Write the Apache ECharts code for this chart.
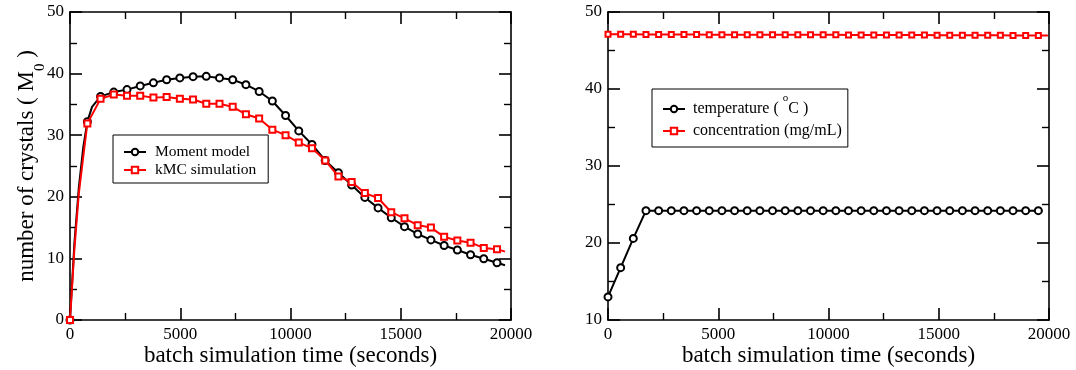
<!DOCTYPE html>
<html>
<head>
<meta charset="utf-8">
<script src="https://cdn.jsdelivr.net/npm/echarts@6/dist/echarts.min.js"></script>
<style>html,body{margin:0;padding:0;background:#fff;}#c{width:1076px;height:370px;}</style>
</head>
<body>
<div id="c"></div>
<script>
// ---- Left panel data (number of crystals) ----
const momentX = [0, 787, 1386, 1985, 2585, 3184, 3783, 4383, 4982, 5581, 6180, 6780, 7379, 7978, 8578, 9177, 9776, 10375, 10975, 11574, 12173, 12773, 13372, 13971, 14570, 15170, 15769, 16368, 16968, 17567, 18166, 18765, 19365];
const momentY = [0, 32.2, 36.3, 37.0, 37.4, 38.0, 38.5, 39.0, 39.3, 39.5, 39.55, 39.3, 39.0, 38.2, 37.1, 35.55, 33.2, 30.7, 28.5, 25.9, 23.9, 21.9, 19.9, 18.2, 16.6, 15.15, 13.96, 13.0, 12.1, 11.36, 10.6, 9.95, 9.3];
const kmcY    = [0, 31.9, 35.9, 36.6, 36.4, 36.4, 36.1, 36.2, 35.9, 35.8, 35.1, 35.1, 34.6, 33.4, 32.7, 30.9, 30.0, 28.8, 27.9, 25.9, 23.3, 22.4, 20.6, 19.8, 17.5, 16.5, 15.4, 15.0, 13.5, 12.9, 12.55, 11.7, 11.5];
// unmarked points of the lines (start curve and line end)
const momentExtra = [[200, 12.5], [400, 21.5], [600, 28.0], [1000, 34.6], [19728, 8.9]];
const kmcExtra    = [[200, 11.5], [400, 20.5], [600, 26.5], [19728, 11.1]];

// ---- Right panel data (temperature / concentration) ----
const tempX = [0, 574, 1148, 1722, 2296, 2870, 3444, 4018, 4592, 5166, 5740, 6314, 6888, 7462, 8036, 8610, 9184, 9758, 10332, 10906, 11480, 12054, 12628, 13202, 13776, 14350, 14924, 15498, 16072, 16646, 17220, 17794, 18368, 18942, 19516];
const tempY = [13.0, 16.8, 20.6, 24.2, 24.2, 24.2, 24.2, 24.2, 24.2, 24.2, 24.2, 24.2, 24.2, 24.2, 24.2, 24.2, 24.2, 24.2, 24.2, 24.2, 24.2, 24.2, 24.2, 24.2, 24.2, 24.2, 24.2, 24.2, 24.2, 24.2, 24.2, 24.2, 24.2, 24.2, 24.2];
const concY = [47.1, 47.1, 47.1, 47.08, 47.08, 47.07, 47.07, 47.07, 47.06, 47.06, 47.06, 47.05, 47.05, 47.05, 47.04, 47.04, 47.03, 47.03, 47.03, 47.02, 47.02, 47.01, 47.01, 47.0, 47.0, 47.0, 46.99, 46.99, 46.98, 46.98, 46.97, 46.97, 46.96, 46.96, 46.95];
const tempExtra = [[19700, 24.2]];
const concExtra = [[19950, 46.95]];

const xTicks = {min: 0, max: 20000, interval: 5000};
const leftY = {min: 0, max: 50, interval: 10};
const rightY = {min: 10, max: 50, interval: 10};

const FONT = 'Liberation Serif';

function buildData(xs, ys, extra) {
  const pts = xs.map((x, i) => ({value: [x, ys[i]]}));
  extra.forEach(p => pts.push({value: p, symbol: 'none'}));
  pts.sort((a, b) => a.value[0] - b.value[0]);
  return pts;
}

function axisBase(range, pos, gridIndex, showLabel) {
  return {
    type: 'value', gridIndex: gridIndex, position: pos,
    min: range.min, max: range.max, interval: range.interval,
    axisLine: {show: true, onZero: false, lineStyle: {color: '#000', width: 1.6}},
    axisTick: {show: true, inside: true, length: 12, lineStyle: {color: '#000', width: 1.6}},
    minorTick: {show: true, splitNumber: 2, length: 7, lineStyle: {color: '#000', width: 1.4}},
    splitLine: {show: false},
    axisLabel: {show: showLabel, color: '#000', fontFamily: FONT, fontSize: 17, margin: 6,
      formatter: function (v) { return String(v); }},
  };
}

const xName = {
  name: 'batch simulation time (seconds)', nameLocation: 'middle', nameGap: 24, nameMoveOverlap: false,
  nameTextStyle: {fontFamily: FONT, fontSize: 23, color: '#000'}
};

const chart = echarts.init(document.getElementById('c'), null, {renderer: 'canvas'});
chart.setOption({
  animation: false,
  backgroundColor: '#fff',
  grid: [
    {left: 70, top: 12, width: 441, height: 308, containLabel: false, outerBoundsMode: 'none'},
    {left: 608, top: 12, width: 441, height: 308, containLabel: false, outerBoundsMode: 'none'}
  ],
  xAxis: [
    Object.assign(axisBase(xTicks, 'bottom', 0, true), xName),
    axisBase(xTicks, 'top', 0, false),
    Object.assign(axisBase(xTicks, 'bottom', 1, true), xName),
    axisBase(xTicks, 'top', 1, false)
  ],
  yAxis: [
    Object.assign(axisBase(leftY, 'left', 0, true), {
      name: '{a|number of crystals ( M}{s|0}{a| )}', nameLocation: 'middle', nameGap: 30, nameMoveOverlap: false,
      nameTextStyle: {color: '#000', rich: {
        a: {fontFamily: FONT, fontSize: 23, color: '#000', lineHeight: 26},
        s: {fontFamily: FONT, fontSize: 15, color: '#000', lineHeight: 26, verticalAlign: 'bottom', padding: [0, 0, -8, 0]}
      }}
    }),
    axisBase(leftY, 'right', 0, false),
    axisBase(rightY, 'left', 1, true),
    axisBase(rightY, 'right', 1, false)
  ],
  legend: [
    {
      data: ['Moment model', 'kMC simulation'], orient: 'vertical', left: 113, top: 135,
      backgroundColor: '#fff', borderColor: '#000', borderWidth: 1, borderRadius: 0,
      padding: [9, 12, 5, 10], itemGap: 2, itemWidth: 22, itemHeight: 8,
      formatter: function (n) { return '{a|' + n + '}'; },
      textStyle: {fontFamily: FONT, fontSize: 16, color: '#000', rich: {
        a: {fontFamily: FONT, fontSize: 15.5, color: '#000', lineHeight: 18, padding: [0, 0, 0, 4]}
      }}
    },
    {
      data: ['temperature', 'concentration (mg/mL)'], orient: 'vertical', left: 652, top: 89,
      backgroundColor: '#fff', borderColor: '#000', borderWidth: 1, borderRadius: 0,
      padding: [4, 6, 8, 10], itemGap: 6, itemWidth: 22, itemHeight: 8,
      formatter: function (n) { return n === 'temperature' ? '{a|temperature ( }{s|o}{b|C )}' : '{a|' + n + '}'; },
      textStyle: {fontFamily: FONT, fontSize: 16, color: '#000', rich: {
        a: {fontFamily: FONT, fontSize: 16, color: '#000', lineHeight: 20, padding: [0, 0, 0, 3]},
        b: {fontFamily: FONT, fontSize: 16, color: '#000', lineHeight: 20},
        s: {fontFamily: FONT, fontSize: 11, color: '#000', lineHeight: 20, verticalAlign: 'top', padding: [-6, 0, 0, 0]}
      }}
    }
  ],
  series: [
    {
      name: 'Moment model', type: 'line', xAxisIndex: 0, yAxisIndex: 0,
      data: buildData(momentX, momentY, momentExtra),
      symbol: 'emptyCircle', symbolSize: 7, showAllSymbol: true, z: 3,
      lineStyle: {color: '#000', width: 2}, itemStyle: {color: '#000', borderWidth: 1.6}
    },
    {
      name: 'kMC simulation', type: 'line', xAxisIndex: 0, yAxisIndex: 0,
      data: buildData(momentX, kmcY, kmcExtra),
      symbol: 'emptyRect', symbolSize: 6, showAllSymbol: true, z: 4,
      lineStyle: {color: '#ff0000', width: 2}, itemStyle: {color: '#ff0000', borderWidth: 1.6}
    },
    {
      name: 'temperature', type: 'line', xAxisIndex: 2, yAxisIndex: 2,
      data: buildData(tempX, tempY, tempExtra),
      symbol: 'emptyCircle', symbolSize: 7, showAllSymbol: true,
      lineStyle: {color: '#000', width: 2}, itemStyle: {color: '#000', borderWidth: 1.6}
    },
    {
      name: 'concentration (mg/mL)', type: 'line', xAxisIndex: 2, yAxisIndex: 2,
      data: buildData(tempX, concY, concExtra),
      symbol: 'emptyRect', symbolSize: 5, showAllSymbol: true,
      lineStyle: {color: '#ff0000', width: 2}, itemStyle: {color: '#ff0000', borderWidth: 1.6}
    }
  ]
});
</script>
</body>
</html>
